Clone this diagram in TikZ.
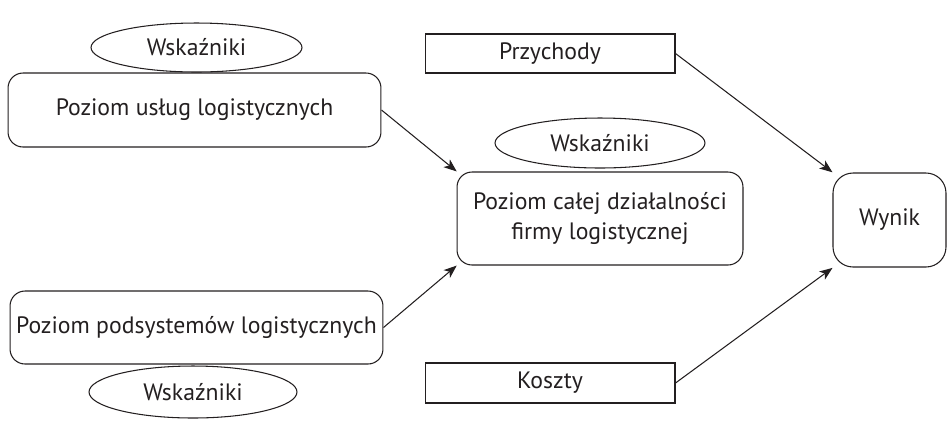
\documentclass[tikz,border=0pt]{standalone}
\usepackage{fontspec}
\setmainfont{PT Sans}
\usetikzlibrary{arrows.meta}
\usetikzlibrary{shapes.geometric}
\definecolor{ink}{RGB}{35, 31, 32}
\tikzset{
  poziom/.style={draw=ink, rounded corners=0.3cm, align=center, inner sep=0pt},
  wskaznik/.style={draw=ink, ellipse, inner sep=0pt},
  kwota/.style={draw=ink, rectangle, inner sep=0pt},
  strzalka/.style={draw=ink, -{Stealth[length=0.26cm, width=0.2cm, inset=0.07cm]}}
}

\begin{document}
\begin{tikzpicture}[x=0.02cm, y=-0.02cm, line width=0.6pt, text=ink, font=\fontsize{13.5}{17}\selectfont]
\useasboundingbox (0,0) rectangle (947,424);
\node[wskaznik, minimum width=4.22cm, minimum height=0.98cm] (wsk-uslugi) at (196.5,47.5) {Wskaźniki};
\node[poziom, minimum width=7.46cm, minimum height=1.48cm] (uslugi) at (194.5,110) {Poziom usług logistycznych};
\node[poziom, minimum width=7.46cm, minimum height=1.46cm] (podsystemy) at (196.5,327.5) {Poziom podsystemów logistycznych};
\node[wskaznik, minimum width=4.16cm, minimum height=1.04cm] (wsk-podsystemy) at (193,392) {Wskaźniki};

\node[wskaznik, minimum width=4.2cm, minimum height=1.0cm] (wsk-firma) at (600,143) {Wskaźniki};
\node[poziom, minimum width=5.72cm, minimum height=1.86cm] (firma) at (600,218.5) {Poziom całej działalności\\firmy logistycznej};

\node[kwota, minimum width=5.0cm, minimum height=0.78cm] (przychody) at (550,53.5) {Przychody};
\node[kwota, minimum width=5.0cm, minimum height=0.8cm] (koszty) at (550,383) {Koszty};
\node[poziom, rounded corners=0.4cm, minimum width=2.26cm, minimum height=1.88cm] (wynik) at (889.5,220) {Wynik};

\draw[strzalka] (uslugi.east) -- ([shift={(0.24,-0.02)}]firma.north west);
\draw[strzalka] (podsystemy.east) -- ([shift={(0.22,0.04)}]firma.south west);
\draw[strzalka] (przychody.east) -- ([shift={(0,-0.2)}]wynik.north west);
\draw[strzalka] (koszty.east) -- ([shift={(0,0.38)}]wynik.south west);
\end{tikzpicture}
\end{document}
